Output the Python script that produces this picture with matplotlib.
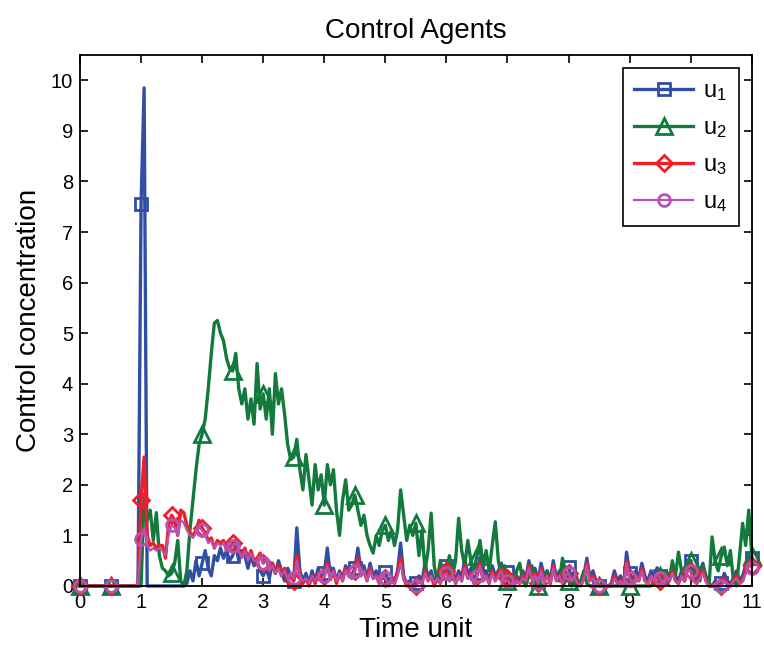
import numpy as np
import matplotlib.pyplot as plt

# sample times (dt = 0.05) and the four control signals, one row per time unit
time = np.arange(221) * 0.05

u1 = [0] * 20 + [
    7.55, 9.85, 0, 0, 0, 0, 0, 0, 0, 0, 0, 0, 0, 0, 0, 0.05, 0.3, 0.1, 0.5, 0.2,
    0.45, 0.7, 0.35, 0.2, 0.6, 0.5, 0.75, 0.55, 0.7, 0.5, 0.6, 0.8, 0.5, 0.7, 0.6, 0.35, 0.6, 0.4, 0.5, 0.3,
    0.2, 0.35, 0.15, 0.45, 0.25, 0.5, 0.3, 0.1, 0.35, 0.2, 0.1, 1.15, 0.3, 0.1, 0.25, 0.05, 0.3, 0.1, 0.35, 0.15,
    0.25, 0.75, 0.2, 0.35, 0.1, 0.3, 0.15, 0.4, 0.3, 0.2, 0.35, 0.75, 0.3, 0.4, 0.15, 0.45, 0.2, 0.3, 0.1, 0.25,
    0.28, 0.05, 0.15, 0.1, 0.3, 0.85, 0.2, 0.05, 0.1, 0.0, 0.05, 0.2, 0.1, 0.45, 0.15, 0.3, 0.05, 0.25, 0.1, 0.4,
    0.4, 0.2, 0.35, 0.1, 0.3, 0.15, 0.55, 0.2, 0.35, 0.1, 0.25, 0.57, 0.15, 0.3, 0.1, 0.4, 0.2, 0.3, 0.45, 0.15,
    0.28, 0.1, 0.05, 0.2, 0.1, 0.3, 0.15, 0.5, 0.2, 0.35, 0.1, 0.45, 0.2, 0.3, 0.1, 0.5, 0.15, 0.3, 0.1, 0.35,
    0.38, 0.15, 0.3, 0.1, 0.05, 0.2, 0.55, 0.15, 0.3, 0.1, 0.0, 0.05, 0.0, 0.0, 0.05, 0.3, 0.1, 0.2, 0.0, 0.67,
    0.25, 0.1, 0.3, 0.15, 0.45, 0.2, 0.1, 0.3, 0.15, 0.36, 0.2, 0.1, 0.3, 0.15, 0.4, 0.2, 0.1, 0.3, 0.15, 0.45,
    0.5, 0.2, 0.1, 0.3, 0.45, 0.15, 0.05, 0.0, 0.1, 0.0, 0.05, 0.25, 0.1, 0.05, 0.15, 0.3, 0.1, 0.2, 0.4, 0.57,
    0.55]

u2 = [0] * 20 + [
    0, 1.75, 1.3, 1.5, 0.9, 1.45, 0.6, 0.35, 0.3, 0.2, 0.25, 0.45, 0.9, 0.1, 0.0, 0.3, 1.1, 1.7, 2.3, 2.8,
    3.0, 3.3, 3.9, 4.6, 5.2, 5.25, 5.0, 4.85, 4.5, 4.3, 4.25, 4.6, 3.9, 3.6, 3.9, 3.3, 3.7, 3.2, 4.4, 3.5,
    3.8, 3.3, 3.9, 3.0, 4.2, 3.6, 3.9, 3.4, 2.8, 2.5, 2.55, 2.9, 2.3, 1.9, 2.6, 2.1, 1.6, 2.4, 1.9, 2.2,
    1.6, 2.4, 2.0, 2.3, 1.5, 1.0, 1.7, 2.1, 1.5, 1.6, 1.8, 1.5, 1.2, 1.4, 1.0, 0.8, 0.65, 1.0, 0.8, 1.1,
    1.2, 0.9, 1.1, 0.8, 1.1, 1.9, 1.4, 0.9, 1.2, 1.0, 1.24, 0.6, 1.1, 0.3, 0.7, 1.44, 0.4, 0.1, 0.5, 0.2,
    0.3, 0.6, 0.2, 0.5, 1.34, 0.7, 0.4, 0.9, 0.5, 0.3, 0.6, 0.9, 0.4, 0.7, 0.3, 0.8, 1.27, 0.5, 0.2, 0.4,
    0.1, 0.2, 0.0, 0.3, 0.45, 0.1, 0.0, 0.2, 0.4, 0.1, 0.0, 0.2, 0.1, 0.3, 0.05, 0.4, 0.2, 0.1, 0.55, 0.3,
    0.1, 0.0, 0.2, 0.0, 0.1, 0.3, 0.05, 0.0, 0.0, 0.0, 0.0, 0.0, 0.0, 0.0, 0.0, 0.0, 0.0, 0.0, 0.0, 0.0,
    0.0, 0.0, 0.0, 0.0, 0.0, 0.0, 0.0, 0.0, 0.1, 0.0, 0.2, 0.0, 0.3, 0.1, 0.5, 0.2, 0.67, 0.3, 0.1, 0.4,
    0.5, 0.2, 0.3, 0.1, 0.4, 0.2, 0.0, 0.97, 0.5, 0.3, 0.6, 0.77, 0.4, 0.7, 0.1, 0.0, 0.6, 1.24, 0.8, 1.5,
    0.6]

u3 = [0] * 20 + [
    1.7, 2.55, 1.0, 0.8, 0.85, 0.75, 0.8, 0.8, 0.55, 1.2, 1.4, 1.3, 1.0, 1.5, 1.45, 1.2, 1.05, 1.0, 1.1, 1.3,
    1.15, 1.05, 0.9, 0.95, 0.75, 0.9, 0.85, 0.9, 0.7, 0.75, 0.85, 0.9, 0.7, 0.6, 0.75, 0.55, 0.7, 0.5, 0.55, 0.65,
    0.45, 0.55, 0.3, 0.45, 0.25, 0.4, 0.2, 0.35, 0.1, 0.25, 0.1, 0.6, 0.2, 0.05, 0.15, 0.0, 0.2, 0.05, 0.25, 0.1,
    0.2, 0.45, 0.15, 0.3, 0.05, 0.25, 0.1, 0.35, 0.2, 0.15, 0.3, 0.55, 0.2, 0.3, 0.1, 0.35, 0.15, 0.2, 0.05, 0.2,
    0.15, 0.0, 0.1, 0.05, 0.25, 0.55, 0.15, 0.0, 0.05, 0.0, 0.0, 0.1, 0.05, 0.3, 0.1, 0.2, 0.0, 0.15, 0.05, 0.25,
    0.3, 0.1, 0.25, 0.05, 0.2, 0.1, 0.4, 0.15, 0.25, 0.05, 0.2, 0.45, 0.1, 0.2, 0.05, 0.3, 0.1, 0.25, 0.35, 0.1,
    0.15, 0.05, 0.0, 0.1, 0.05, 0.2, 0.1, 0.4, 0.15, 0.25, 0.05, 0.35, 0.1, 0.2, 0.05, 0.4, 0.1, 0.2, 0.05, 0.25,
    0.25, 0.1, 0.2, 0.05, 0.0, 0.15, 0.45, 0.1, 0.2, 0.05, 0.0, 0.0, 0.0, 0.0, 0.0, 0.2, 0.05, 0.1, 0.0, 0.5,
    0.15, 0.05, 0.2, 0.1, 0.35, 0.1, 0.05, 0.2, 0.1, 0.25, 0.1, 0.05, 0.2, 0.1, 0.3, 0.1, 0.05, 0.2, 0.1, 0.35,
    0.3, 0.1, 0.05, 0.2, 0.3, 0.1, 0.0, 0.0, 0.05, 0.0, 0.0, 0.15, 0.05, 0.0, 0.1, 0.2, 0.05, 0.1, 0.3, 0.45,
    0.4]

u4 = [0] * 20 + [
    0.92, 1.15, 0.8, 0.7, 0.75, 0.7, 0.75, 0.7, 0.6, 1.0, 1.2, 1.15, 1.0, 1.3, 1.25, 1.1, 1.0, 0.95, 1.05, 1.15,
    1.1, 1.0, 0.85, 0.9, 0.75, 0.85, 0.8, 0.85, 0.7, 0.7, 0.8, 0.85, 0.7, 0.55, 0.7, 0.5, 0.65, 0.5, 0.5, 0.6,
    0.45, 0.5, 0.3, 0.4, 0.25, 0.35, 0.2, 0.3, 0.15, 0.25, 0.15, 0.5, 0.2, 0.1, 0.15, 0.05, 0.2, 0.1, 0.2, 0.1,
    0.2, 0.4, 0.15, 0.3, 0.1, 0.25, 0.1, 0.3, 0.2, 0.15, 0.3, 0.45, 0.2, 0.3, 0.1, 0.3, 0.15, 0.2, 0.05, 0.2,
    0.15, 0.05, 0.1, 0.05, 0.2, 0.45, 0.15, 0.05, 0.05, 0.0, 0.0, 0.1, 0.05, 0.25, 0.1, 0.2, 0.05, 0.15, 0.05, 0.2,
    0.25, 0.1, 0.2, 0.05, 0.2, 0.1, 0.35, 0.15, 0.2, 0.05, 0.2, 0.4, 0.1, 0.2, 0.05, 0.25, 0.1, 0.2, 0.3, 0.1,
    0.1, 0.05, 0.0, 0.1, 0.05, 0.15, 0.1, 0.35, 0.15, 0.2, 0.05, 0.3, 0.1, 0.2, 0.05, 0.35, 0.1, 0.2, 0.05, 0.2,
    0.25, 0.1, 0.15, 0.05, 0.0, 0.15, 0.4, 0.1, 0.15, 0.05, 0.0, 0.0, 0.0, 0.0, 0.0, 0.15, 0.05, 0.1, 0.0, 0.45,
    0.15, 0.05, 0.15, 0.1, 0.3, 0.1, 0.05, 0.2, 0.1, 0.25, 0.15, 0.05, 0.2, 0.1, 0.25, 0.1, 0.05, 0.2, 0.1, 0.3,
    0.3, 0.1, 0.05, 0.15, 0.25, 0.1, 0.0, 0.0, 0.05, 0.0, 0.0, 0.1, 0.05, 0.0, 0.1, 0.15, 0.05, 0.1, 0.25, 0.4,
    0.35]

labels = [r'$\mathregular{u_1}$', r'$\mathregular{u_2}$',
          r'$\mathregular{u_3}$', r'$\mathregular{u_4}$']
colors = ['#2f4fa6', '#127a3c', '#ee1f26', '#b552b3']
markers = ['s', '^', 'D', 'o']
msizes = [9, 12, 8, 8.5]
widths = [2.4, 2.4, 2.4, 1.6]

# marker every 0.5 time unit (skip the ones hidden in the reference)
every = list(range(0, 221, 10))
marks = [[i for i in every if i != 30], [i for i in every if i != 20], every, every]

plt.rcParams['font.family'] = ['Liberation Sans', 'DejaVu Sans']

fig = plt.figure(figsize=(7.64, 6.45), dpi=100)
ax = fig.add_axes([0.1047, 0.0915, 0.8793, 0.8232])

for y, lab, c, m, ms, lw, mk in zip([u1, u2, u3, u4], labels, colors, markers,
                                    msizes, widths, marks):
    ax.plot(time, y, color=c, linewidth=lw, marker=m, markersize=ms,
            markerfacecolor='none', markeredgecolor=c, markeredgewidth=2.0,
            markevery=mk, label=lab, clip_on=False)

ax.set_xlim(0, 11)
ax.set_ylim(0, 10.5)
ax.set_xticks(range(0, 12))
ax.set_yticks(range(0, 11))
ax.tick_params(direction='in', top=True, right=True, length=6, width=1.2,
               labelsize=14.5, pad=5)
for sp in ax.spines.values():
    sp.set_linewidth(1.3)

ax.set_title('Control Agents', fontsize=20, pad=12)
ax.set_xlabel('Time unit', fontsize=20, labelpad=4)
ax.set_ylabel('Control concentration', fontsize=20, labelpad=6)

leg = ax.legend(loc='upper right', fontsize=17, handlelength=2.5,
                handletextpad=0.4, fancybox=False, edgecolor='black',
                framealpha=1, borderaxespad=0.55, labelspacing=0.6,
                borderpad=0.5)
leg.get_frame().set_linewidth(1.2)

plt.savefig('out.png', dpi=100)
